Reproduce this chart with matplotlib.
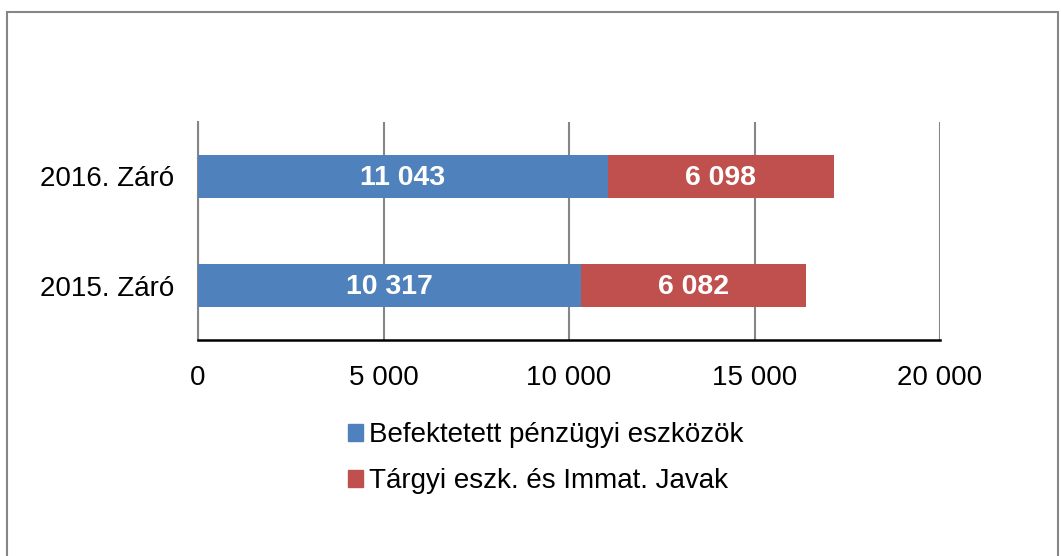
import matplotlib.pyplot as plt
from matplotlib.patches import Rectangle, Patch

plt.rcParams['font.family'] = ['Liberation Sans', 'DejaVu Sans']

# Données
categories = ["2015. Záró", "2016. Záró"]
series_names = ["Befektetett pénzügyi eszközök", "Tárgyi eszk. és Immat. Javak"]
befektetett = [10317, 11043]
targyi = [6082, 6098]
colors = ["#4F81BD", "#C0504D"]
xticks = [0, 5000, 10000, 15000, 20000]


def fmt(v):
    return f"{v:,}".replace(",", " ")


fig = plt.figure(figsize=(10.61, 5.56), dpi=100)
ax = fig.add_axes([198 / 1061, 1 - 340 / 556, (940 - 198) / 1061, 218 / 556])

pos = list(range(len(categories)))
b1 = ax.barh(pos, befektetett, height=0.4, color=colors[0], zorder=3)
b2 = ax.barh(pos, targyi, left=befektetett, height=0.4, color=colors[1], zorder=3)

# Étiquettes dans les barres
for bars, vals in ((b1, befektetett), (b2, targyi)):
    for rect, v in zip(bars, vals):
        ax.text(rect.get_x() + rect.get_width() / 2, rect.get_y() + rect.get_height() / 2 - 0.015,
                fmt(v), ha="center", va="center", color="white",
                fontsize=20.5, fontweight="bold", zorder=4)

ax.set_xlim(0, 20000)
ax.set_ylim(-0.5, 1.5)
ax.set_xticks(xticks)
ax.set_xticklabels([fmt(v) for v in xticks], fontsize=20)
ax.set_yticks(pos)
ax.set_yticklabels(categories, fontsize=20)
ax.tick_params(axis="both", length=0)
ax.tick_params(axis="x", pad=18)
ax.tick_params(axis="y", pad=17)

ax.grid(axis="x", color="#868686", linewidth=1.5, zorder=0)
for s in ("top", "right"):
    ax.spines[s].set_visible(False)
ax.spines["left"].set_color("#868686")
ax.spines["left"].set_linewidth(1.5)
ax.spines["bottom"].set_color("black")
ax.spines["bottom"].set_linewidth(1.8)

# Légende
handles = [Patch(color=c) for c in colors]
fig.legend(handles, series_names, loc="upper left", bbox_to_anchor=(337 / 1061, 1 - 411 / 556),
           frameon=False, fontsize=20, handlelength=0.55, handleheight=0.55,
           handletextpad=0.2, labelspacing=0.72, borderaxespad=0)

# Cadre extérieur
fig.patches.append(Rectangle((7 / 1061, -0.05), 1051 / 1061, 1 - 12 / 556 + 0.05,
                             transform=fig.transFigure, fill=False,
                             edgecolor="#868686", linewidth=1.5))

fig.savefig("out.png", dpi=100)
plt.close(fig)
